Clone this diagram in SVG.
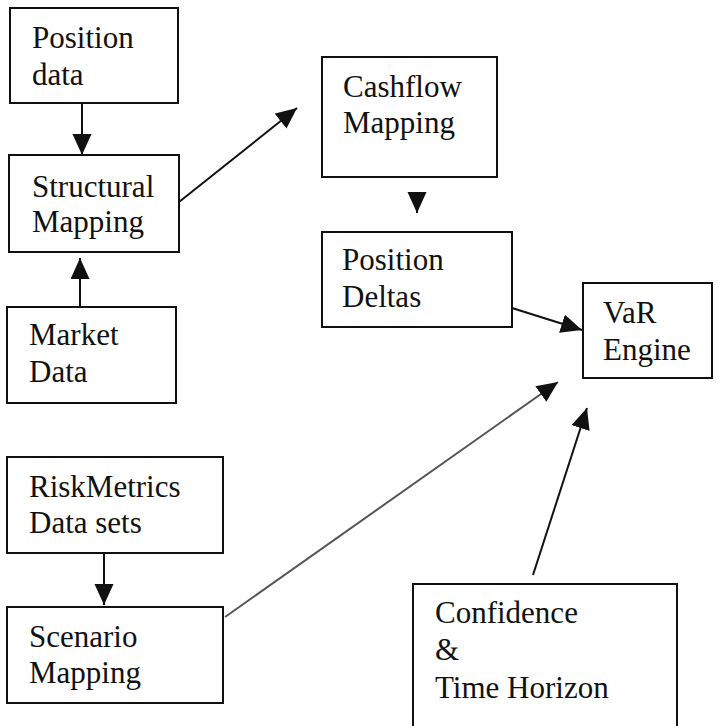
<svg xmlns="http://www.w3.org/2000/svg" width="719" height="726" viewBox="0 0 719 726">
<style>
.box{fill:#fff;stroke:#111;stroke-width:2}
.t{font-family:"Liberation Serif","Times New Roman",serif;font-size:31px;fill:#111}
.c{stroke:#111;stroke-width:2;fill:none}
.g{stroke:#555;stroke-width:2;fill:none}
</style>
<defs>
<marker id="ah" markerUnits="userSpaceOnUse" markerWidth="22" markerHeight="20" refX="21" refY="9.5" orient="auto">
<path d="M0,0 L21,9.5 L0,19 z" fill="#111"/>
</marker>
</defs>
<rect width="719" height="726" fill="#fff"/>
<g id="connectors">
<path class="c" d="M82,103 L82,155" marker-end="url(#ah)"/>
<path class="c" d="M80,307 L80,258" marker-end="url(#ah)"/>
<path class="c" d="M179,202 L297,108" marker-end="url(#ah)"/>
<path class="c" d="M417,194 L417,213" marker-end="url(#ah)"/>
<path class="c" d="M512,308 L582,330" marker-end="url(#ah)"/>
<path class="g" d="M225,617 L558,382" marker-end="url(#ah)"/>
<path class="c" d="M533,575 L587,408" marker-end="url(#ah)"/>
<path class="c" d="M104,553 L104,605" marker-end="url(#ah)"/>
</g>
<g id="position-data">
<rect class="box" x="10" y="8" width="168" height="95"/>
<text class="t" x="32" y="48">Position</text>
<text class="t" x="32" y="85">data</text>
</g>
<g id="structural-mapping">
<rect class="box" x="9" y="155" width="170" height="97"/>
<text class="t" x="32" y="197">Structural</text>
<text class="t" x="32" y="232">Mapping</text>
</g>
<g id="market-data">
<rect class="box" x="7" y="307" width="169" height="96"/>
<text class="t" x="29" y="345">Market</text>
<text class="t" x="29" y="382">Data</text>
</g>
<g id="cashflow-mapping">
<rect class="box" x="322" y="57" width="175" height="120"/>
<text class="t" x="343" y="97">Cashflow</text>
<text class="t" x="343" y="133">Mapping</text>
</g>
<g id="position-deltas">
<rect class="box" x="322" y="232" width="190" height="95"/>
<text class="t" x="342" y="270">Position</text>
<text class="t" x="342" y="307">Deltas</text>
</g>
<g id="var-engine">
<rect class="box" x="583" y="283" width="129" height="95"/>
<text class="t" x="603" y="323">VaR</text>
<text class="t" x="603" y="360">Engine</text>
</g>
<g id="riskmetrics-data-sets">
<rect class="box" x="7" y="457" width="216" height="96"/>
<text class="t" x="29" y="497">RiskMetrics</text>
<text class="t" x="29" y="533">Data sets</text>
</g>
<g id="scenario-mapping">
<rect class="box" x="7" y="607" width="216" height="96"/>
<text class="t" x="29" y="647">Scenario</text>
<text class="t" x="29" y="683">Mapping</text>
</g>
<g id="confidence-time-horizon">
<rect class="box" x="413" y="584" width="264" height="160"/>
<text class="t" x="435" y="623">Confidence</text>
<text class="t" x="435" y="660">&amp;</text>
<text class="t" x="435" y="698">Time Horizon</text>
</g>
</svg>
